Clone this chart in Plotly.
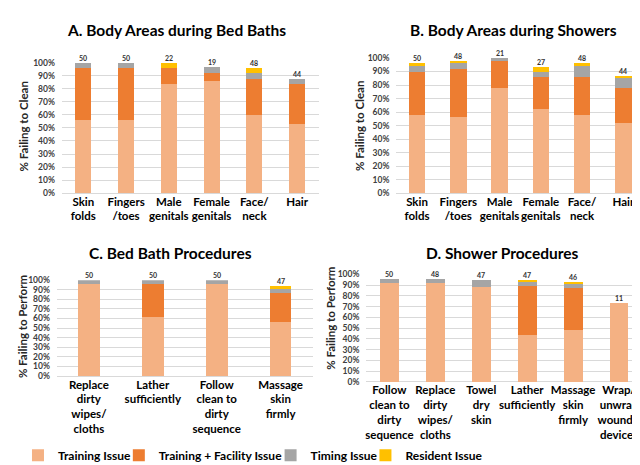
import plotly.graph_objects as go

W, H = 640, 465

series_names = ["Training Issue", "Training + Facility Issue", "Timing Issue", "Resident Issue"]
series_colors = ["#F4B183", "#ED7D31", "#A5A5A5", "#FFC000"]

# Panel A: Body areas during bed baths
a_title = "A. Body Areas during Bed Baths"
a_cats = ["Skin<br>folds", "Fingers<br>/toes", "Male<br>genitals", "Female<br>genitals", "Face/<br>neck", "Hair"]
a_training = [56, 56, 84, 86, 60, 53]
a_facility = [40, 40, 12, 6, 28, 31]
a_timing = [4, 4, 0, 5, 4, 4]
a_resident = [0, 0, 4, 0, 4, 0]
a_n = [50, 50, 22, 19, 48, 44]

# Panel B: Body areas during showers
b_title = "B. Body Areas during Showers"
b_cats = ["Skin<br>folds", "Fingers<br>/toes", "Male<br>genitals", "Female<br>genitals", "Face/<br>neck", "Hair"]
b_training = [58, 56, 78, 62, 58, 52]
b_facility = [32, 36, 20, 24, 28, 26]
b_timing = [4, 4, 2, 4, 8, 7]
b_resident = [2, 2, 0, 3, 2, 2]
b_n = [50, 48, 21, 27, 48, 44]

# Panel C: Bed bath procedures
c_title = "C. Bed Bath Procedures"
c_cats = ["Replace<br>dirty<br>wipes/<br>cloths", "Lather<br>sufficiently",
          "Follow<br>clean to<br>dirty<br>sequence", "Massage<br>skin<br>firmly"]
c_training = [96, 62, 96, 56]
c_facility = [0, 34, 0, 31]
c_timing = [4, 4, 4, 4]
c_resident = [0, 0, 0, 3]
c_n = [50, 50, 50, 47]

# Panel D: Shower procedures
d_title = "D. Shower Procedures"
d_cats = ["Follow<br>clean to<br>dirty<br>sequence", "Replace<br>dirty<br>wipes/<br>cloths", "Towel<br>dry<br>skin",
          "Lather<br>sufficiently", "Massage<br>skin<br>firmly", "Wrap/<br>unwrap<br>wounds,<br>devices"]
d_training = [92, 92, 88, 44, 48, 73]
d_facility = [0, 0, 0, 45, 39, 0]
d_timing = [4, 4, 7, 4, 4, 0]
d_resident = [0, 0, 0, 2, 2, 0]
d_n = [50, 48, 47, 47, 46, 11]

y_tick_vals = list(range(0, 101, 10))
y_tick_text = [f"{v}%" for v in y_tick_vals]

FONT = "Lato"

# layout in pixels: (x0, x1, ytop, ybottom), bar width, title pos, ytitle pos
panels = [
    dict(title=a_title, cats=a_cats, vals=[a_training, a_facility, a_timing, a_resident], n=a_n,
         box=(53, 310, 51, 184), width=0.37, tpos=(168, 17), ytitle="% Failing to Clean", ypos=(15, 116)),
    dict(title=b_title, cats=b_cats, vals=[b_training, b_facility, b_timing, b_resident], n=b_n,
         box=(388, 636, 46, 184), width=0.40, tpos=(505, 17), ytitle="% Failing to Clean", ypos=(351, 115)),
    dict(title=c_title, cats=c_cats, vals=[c_training, c_facility, c_timing, c_resident], n=c_n,
         box=(48, 304, 273, 371), width=0.34, tpos=(162, 245), ytitle="% Failing to Perform", ypos=(13, 320)),
    dict(title=d_title, cats=d_cats, vals=[d_training, d_facility, d_timing, d_resident], n=d_n,
         box=(358, 634, 267, 377), width=0.41, tpos=(494, 245), ytitle="% Failing to Perform", ypos=(322, 312)),
]

legend_ids = ["legend", "legend2", "legend3", "legend4"]
legend_x = [9, 110, 262, 357]

fig = go.Figure()
annotations = []

for i, p in enumerate(panels):
    k = "" if i == 0 else str(i + 1)
    xa, ya = "x" + k, "y" + k
    for s, (name, color) in enumerate(zip(series_names, series_colors)):
        fig.add_trace(go.Bar(
            x=p["cats"], y=p["vals"][s], name=name, marker=dict(color=color, line=dict(width=0)),
            width=p["width"], xaxis=xa, yaxis=ya, showlegend=(i == 0), legend=legend_ids[s],
            hoverinfo="skip",
        ))
    totals = [sum(col) for col in zip(*p["vals"])]
    for cat, tot, n in zip(p["cats"], totals, p["n"]):
        annotations.append(dict(x=cat, y=tot, xref=xa, yref=ya, text=str(n), showarrow=False,
                                yanchor="bottom", yshift=-1,
                                font=dict(family=FONT, size=7, color="#333333", weight="bold")))
    x0, x1, yt, yb = p["box"]
    axis_x = dict(domain=[x0 / W, x1 / W], anchor=ya, showgrid=False, showline=False, ticks="",
                  tickfont=dict(family=FONT, size=11.5, color="#000000", weight="bold"), tickangle=0,
                  fixedrange=True)
    axis_y = dict(domain=[1 - yb / H, 1 - yt / H], anchor=xa, range=[0, 100], tickvals=y_tick_vals,
                  ticktext=y_tick_text, showgrid=True, gridcolor="#D9D9D9", gridwidth=1,
                  zeroline=True, zerolinecolor="#D9D9D9", zerolinewidth=1, showline=False, ticks="",
                  ticklabelstandoff=6,
                  tickfont=dict(family=FONT, size=8.5, color="#404040", weight="bold"), fixedrange=True)
    fig.update_layout(**{"xaxis" + k: axis_x, "yaxis" + k: axis_y})
    tx, ty = p["tpos"]
    annotations.append(dict(x=tx / W, y=1 - ty / H, xref="paper", yref="paper", text=p["title"],
                            showarrow=False, xanchor="center", yanchor="middle",
                            font=dict(family=FONT, size=15.5, color="#000000", weight="bold")))
    yx, yy = p["ypos"]
    annotations.append(dict(x=yx / W, y=1 - yy / H, xref="paper", yref="paper", text=p["ytitle"],
                            showarrow=False, xanchor="center", yanchor="middle", textangle=-90,
                            font=dict(family=FONT, size=11.5, color="#262626", weight="bold")))

legend_layout = {}
for lid, lx in zip(legend_ids, legend_x):
    legend_layout[lid] = dict(orientation="h", x=lx / W, y=1 - 452 / H, xanchor="left", yanchor="middle",
                              font=dict(family=FONT, size=12, color="#000000", weight="bold"),
                              bgcolor="rgba(0,0,0,0)", itemclick=False, itemdoubleclick=False)

fig.update_layout(
    width=W, height=H, margin=dict(l=0, r=0, t=0, b=0),
    barmode="stack", bargap=0.6,
    paper_bgcolor="white", plot_bgcolor="white",
    annotations=annotations,
    showlegend=True,
    **legend_layout,
)

fig.write_html("out.html")
